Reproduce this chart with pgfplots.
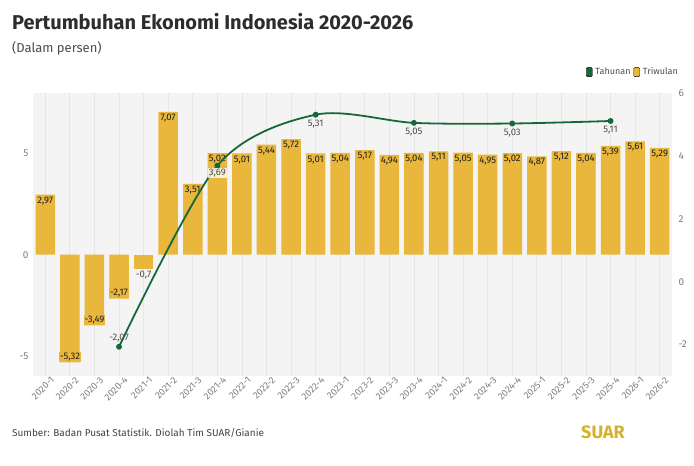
\documentclass[border=0pt]{standalone}
\usepackage{pgfplots}
\pgfplotsset{compat=1.18}
\usepackage{fontspec}
\setmainfont{Fira Sans}
\definecolor{barcol}{RGB}{232,183,59}
\definecolor{linecol}{RGB}{22,104,58}
\definecolor{panel}{RGB}{244,244,244}
\definecolor{gridcol}{RGB}{230,230,230}
\definecolor{tickcol}{RGB}{125,125,125}
\definecolor{titlecol}{RGB}{45,45,45}
\definecolor{labcol}{RGB}{30,30,30}
\definecolor{suar}{RGB}{214,178,40}
\begin{document}
\begin{tikzpicture}[x=1pt,y=1pt]
\path[use as bounding box] (0,0) rectangle (694,466);
\node[anchor=base west, inner sep=0, text=titlecol, font=\fontsize{20}{24}\selectfont\bfseries] at (12,436) {Pertumbuhan Ekonomi Indonesia 2020-2026};
\node[anchor=base west, inner sep=0, text=titlecol!85, font=\fontsize{13}{15}\selectfont] at (12,413) {(Dalam persen)};
\node[anchor=base west, inner sep=0, text=titlecol!90, font=\fontsize{10}{12}\selectfont] at (12,29) {Sumber: Badan Pusat Statistik. Diolah Tim SUAR/Gianie};
\node[anchor=base west, inner sep=0, text=suar, font=\fontsize{18}{20}\selectfont\bfseries] at (581,27) {SUAR};

\begin{axis}[
  at={(33pt,90pt)}, anchor=south west,
  width=639pt, height=283pt, scale only axis,
  xmin=-0.5, xmax=25.5, ymin=-6, ymax=8,
  axis background/.style={fill=panel},
  axis line style={draw=none},
  major tick length=0pt,
  xtick={0,...,25},
  xticklabels={2020-1,2020-2,2020-3,2020-4,2021-1,2021-2,2021-3,2021-4,2022-1,2022-2,2022-3,2022-4,2023-1,2023-2,2023-3,2023-4,2024-1,2024-2,2024-3,2024-4,2025-1,2025-2,2025-3,2025-4,2026-1,2026-2},
  xticklabel style={rotate=45, anchor=north east, text=tickcol, font=\fontsize{9.5}{10}\selectfont, inner sep=0.5pt, xshift=4pt, yshift=-3pt},
  xmajorgrids, major grid style={gridcol, line width=0.8pt},
  ytick={-5,0,5},
  yticklabel style={text=tickcol, font=\fontsize{10}{12}\selectfont, xshift=-1pt},
  /pgf/number format/.cd, use comma, fixed, precision=2, assume math mode=true,
]
\addplot[ybar, bar width=19.5pt, bar shift=0pt, fill=barcol, draw=none,
  nodes near coords,
  every node near coord/.append style={anchor=north, font=\fontsize{9.5}{10}\selectfont, text=labcol, fill=barcol, inner sep=1pt, yshift=-1pt}]
  coordinates {(0,2.97)(5,7.07)(6,3.51)(7,5.02)(8,5.01)(9,5.44)(10,5.72)(11,5.01)(12,5.04)(13,5.17)(14,4.94)(15,5.04)(16,5.11)(17,5.05)(18,4.95)(19,5.02)(20,4.87)(21,5.12)(22,5.04)(23,5.39)(24,5.61)(25,5.29)};
\addplot[ybar, bar width=19.5pt, bar shift=0pt, fill=barcol, draw=none,
  nodes near coords,
  every node near coord/.append style={anchor=south, font=\fontsize{9.5}{10}\selectfont, text=labcol, fill=barcol, inner sep=1pt, yshift=0pt}]
  coordinates {(1,-5.32)(2,-3.49)(3,-2.17)};
\addplot[ybar, bar width=19.5pt, bar shift=0pt, fill=barcol, draw=none,
  nodes near coords,
  every node near coord/.append style={anchor=north, font=\fontsize{9.5}{10}\selectfont, text=titlecol!85, inner sep=1pt, yshift=-1pt}]
  coordinates {(4,-0.7)};
\end{axis}

\begin{axis}[
  at={(33pt,90pt)}, anchor=south west,
  width=639pt, height=283pt, scale only axis,
  xmin=-0.5, xmax=25.5, ymin=-3, ymax=6,
  axis x line=none,
  axis y line*=right,
  axis line style={draw=none},
  major tick length=0pt,
  ytick={-2,0,2,4,6},
  yticklabel style={text=tickcol, font=\fontsize{10}{12}\selectfont, xshift=3pt},
  /pgf/number format/.cd, use comma, fixed, precision=2, assume math mode=true,
  /pgfplots/.cd,
  legend style={at={(1.0125,1.074)}, anchor=east, draw=none, fill=none, font=\fontsize{9}{10}\selectfont, text=titlecol!85, column sep=1pt, inner sep=0pt},
  legend columns=2,
  legend cell align=left,
  legend image code/.code={\fill[#1, rounded corners=1pt] (0pt,-4.5pt) rectangle (6pt,4.5pt);},
]
\addlegendimage{fill=linecol}
\addlegendentry{Tahunan}
\addlegendimage{fill=barcol}
\addlegendentry{Triwulan}
\addplot[forget plot, linecol, line width=1.8pt, smooth, tension=0.5, mark=*, mark size=2pt, mark options={fill=linecol, draw=linecol}]
  coordinates {(3,-2.07)(7,3.69)(11,5.31)(15,5.05)(19,5.03)(23,5.11)};
\addplot[forget plot, draw=none, nodes near coords,
  every node near coord/.append style={anchor=north, font=\fontsize{9.5}{10}\selectfont, text=titlecol!85, inner sep=1pt, yshift=-4pt}]
  coordinates {(11,5.31)(15,5.05)(19,5.03)(23,5.11)};
\addplot[forget plot, draw=none, nodes near coords,
  every node near coord/.append style={anchor=north, font=\fontsize{9.5}{10}\selectfont, text=titlecol!85, fill=white, fill opacity=0.8, text opacity=1, inner sep=1pt, yshift=-2pt}]
  coordinates {(7,3.69)};
\addplot[forget plot, draw=none, nodes near coords,
  every node near coord/.append style={anchor=south, font=\fontsize{9.5}{10}\selectfont, text=titlecol!85, inner sep=1pt, yshift=3pt}]
  coordinates {(3,-2.07)};
\end{axis}
\end{tikzpicture}
\end{document}
